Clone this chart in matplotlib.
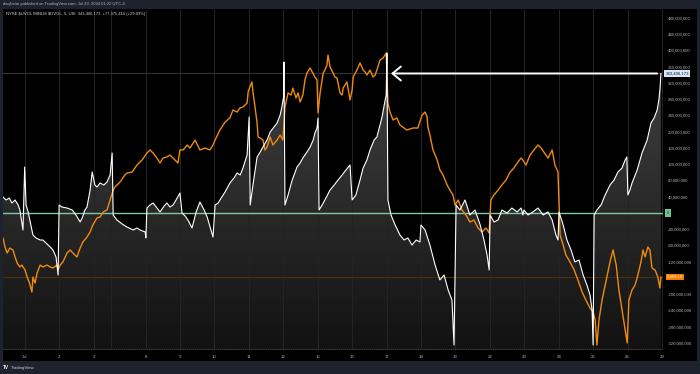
import numpy as np
import matplotlib.pyplot as plt
from matplotlib.colors import LinearSegmentedColormap

plt.rcParams['font.family'] = ['Liberation Sans', 'DejaVu Sans']

# x = trading sessions since Jul 1 open (Jul 3 was a half day)
day_ticks = [0, 1, 2, 3.5, 4.5, 5.5, 6.5, 7.5, 8.5, 9.5, 10.5, 11.5, 12.5,
             13.5, 14.5, 15.5, 16.5, 17.5, 18.5]
day_labels = ['Jul', '2', '3', '8', '9', '10', '11', '12', '15', '16', '17',
              '18', '19', '22', '23', '24', '25', '26', '29']
session_starts = day_ticks + [2.5]

# NYSE $UVOL minus $DVOL, cumulative per session, millions of shares
net_x = [-0.64, -0.55, -0.46, -0.38, -0.29, -0.20, -0.15, -0.06, -0.01,
         0.03, 0.09, 0.17, 0.23, 0.32, 0.44, 0.52, 0.61, 0.73, 0.81, 0.90, 0.96,
         0.99, 1.07, 1.22, 1.37, 1.48, 1.60, 1.66, 1.74, 1.80, 1.89, 1.95,
         2.03, 2.09, 2.18, 2.29, 2.38, 2.47, 2.53,
         2.56, 2.67, 2.82, 2.96, 3.14, 3.25, 3.34, 3.49, 3.51,
         3.54, 3.63, 3.72, 3.83, 3.92, 4.04, 4.12, 4.21, 4.30, 4.42, 4.50,
         4.56, 4.65, 4.73, 4.85, 4.97, 5.08, 5.20, 5.29, 5.40, 5.46,
         5.52, 5.61, 5.66, 5.81, 5.95, 6.07, 6.16, 6.25, 6.33, 6.45, 6.51,
         6.54, 6.62, 6.74, 6.83, 6.91, 7.03, 7.12, 7.23, 7.32, 7.41, 7.46, 7.51, 7.52,
         7.55, 7.64, 7.76, 7.90, 7.99, 8.07, 8.19, 8.28, 8.37, 8.42, 8.48, 8.51,
         8.54, 8.63, 8.74, 8.86, 8.98, 9.09, 9.21, 9.32, 9.44,
         9.50, 9.61, 9.73, 9.82, 9.93, 10.02, 10.14, 10.22, 10.31, 10.37, 10.46, 10.49, 10.51,
         10.54, 10.63, 10.75, 10.89, 11.01, 11.12, 11.24, 11.36, 11.47,
         11.50, 11.62, 11.76, 11.91, 12.05, 12.17, 12.29, 12.40, 12.46,
         12.52, 12.63, 12.78, 12.92, 13.07, 13.22, 13.33, 13.42, 13.48,
         13.51, 13.62, 13.74, 13.85, 14.00, 14.14, 14.29, 14.41, 14.46,
         14.49, 14.61, 14.75, 14.90, 15.05, 15.19, 15.31, 15.42, 15.48,
         15.51, 15.63, 15.74, 15.86, 15.97, 16.09, 16.21, 16.32, 16.41, 16.47, 16.50,
         16.53, 16.61, 16.73, 16.85, 16.99, 17.11, 17.22, 17.34, 17.43, 17.48,
         17.51, 17.57, 17.63, 17.78, 17.92, 18.07, 18.18, 18.27, 18.36, 18.41, 18.44, 18.47]
net_vol = [39.4, 32.0, 36.9, 24.6, 32.0, 19.7, 7.4, -41.8, 113.2,
           19.7, 2.5, -29.5, -54.2, -61.5, -66.5, -66.5, -73.8, -83.7, -91.1, -108.3, -152.6,
           19.7, 14.8, 12.3, 7.4, -4.9, -22.2, -12.3, 7.4, 14.8, 56.6, 100.9,
           68.9, 64.0, 73.8, 68.9, 76.3, 93.5, 147.7,
           -4.9, -17.2, -27.1, -34.5, -41.8, -36.9, -41.8, -46.8, -61.5,
           12.3, 19.7, 24.6, 12.3, 2.5, 17.2, 24.6, 14.8, 19.7, 36.9, 49.2,
           0.0, -7.4, -17.2, -36.9, 2.5, 27.1, 7.4, -9.8, -41.8, -59.1,
           19.7, 24.6, 32.0, 51.7, 73.8, 86.2, 98.5, 93.5, 110.8, 142.8, 236.3,
           19.7, 68.9, 137.8, 150.2, 162.5, 179.7, 199.4, 211.7, 221.5, 241.2, 260.9, 285.5, 371.7,
           19.7, 44.3, 81.2, 113.2, 123.1, 135.4, 150.2, 162.5, 179.7, 196.9, 209.2, 233.8,
           7.4, 19.7, 36.9, 56.6, 68.9, 81.2, 93.5, 105.8, 118.2,
           32.0, 44.3, 81.2, 110.8, 130.5, 155.1, 179.7, 187.1, 216.6, 236.3, 278.2, 290.5, 393.8,
           32.0, -4.9, -29.5, -54.2, -66.5, -61.5, -78.8, -66.5, -71.4,
           -29.5, -41.8, -78.8, -128.0, -164.9, -152.6, -189.5, -214.2, -324.9,
           19.7, 7.4, 32.0, -4.9, 7.4, -29.5, -66.5, -103.4, -140.3,
           -4.9, -22.2, -17.2, 7.4, 0.0, 12.3, 2.5, 12.3, -4.9,
           7.4, -4.9, 2.5, 12.3, -4.9, 2.5, -17.2, -54.2, -66.5,
           2.5, -29.5, -66.5, -91.1, -120.6, -115.7, -152.6, -177.2, -201.8, -238.8, -324.9,
           -4.9, 7.4, 19.7, 44.3, 68.9, 81.2, 100.9, 110.8, 130.5, 137.8,
           44.3, 56.6, 73.8, 105.8, 147.7, 179.7, 221.5, 233.8, 253.5, 278.2, 302.8, 343.4]

# S&P 500 overlay (own hidden scale)
spx_x = [-0.64, -0.58, -0.52, -0.44, -0.35, -0.29, -0.23, -0.15, -0.09, 0.00,
         0.06, 0.12, 0.17, 0.20, 0.23, 0.29, 0.35, 0.44, 0.52, 0.64, 0.73, 0.81, 0.93,
         0.96, 1.02, 1.10, 1.22, 1.31, 1.39, 1.51, 1.60, 1.68, 1.80, 1.89,
         1.97, 2.09, 2.18, 2.27, 2.38, 2.47,
         2.56, 2.61, 2.76, 2.90, 2.96, 3.11, 3.25, 3.40, 3.54,
         3.63, 3.72, 3.83, 3.92, 4.01, 4.12, 4.21, 4.30, 4.44, 4.50,
         4.59, 4.71, 4.79, 4.94, 5.08, 5.23, 5.37, 5.46,
         5.52, 5.66, 5.81, 5.95, 6.04, 6.16, 6.24, 6.33, 6.45, 6.48, 6.53,
         6.59, 6.62, 6.68, 6.74, 6.77, 6.83, 6.91, 6.97, 7.03, 7.12, 7.20, 7.32, 7.41, 7.49,
         7.55, 7.64, 7.73, 7.78, 7.87, 7.93, 7.99, 8.07, 8.13, 8.19, 8.28, 8.36, 8.42, 8.48, 8.51,
         8.57, 8.66, 8.71, 8.77, 8.80, 8.86, 8.95, 9.00, 9.06, 9.15, 9.21, 9.24, 9.35, 9.44,
         9.50, 9.53, 9.64, 9.73, 9.82, 9.88, 9.93, 10.02, 10.11, 10.17, 10.22, 10.31, 10.40, 10.49,
         10.54, 10.60, 10.69, 10.80, 10.89, 11.09, 11.27, 11.41, 11.53, 11.62, 11.68, 11.70,
         11.76, 11.85, 11.97, 12.05, 12.14, 12.26, 12.34, 12.43, 12.49,
         12.58, 12.69, 12.81, 12.92, 13.04, 13.16, 13.27, 13.39, 13.48,
         13.53, 13.62, 13.74, 13.85, 13.97, 14.09, 14.20, 14.32, 14.41, 14.46,
         14.55, 14.67, 14.78, 14.90, 14.99, 15.07, 15.19, 15.31, 15.39, 15.48,
         15.54, 15.63, 15.71, 15.83, 15.95, 16.06, 16.18, 16.29, 16.41, 16.50,
         16.56, 16.61, 16.67, 16.76, 16.88, 16.99, 17.08, 17.17, 17.25, 17.34, 17.43, 17.49,
         17.54, 17.63, 17.72, 17.80, 17.89, 17.95, 18.01, 18.09, 18.15, 18.21, 18.30, 18.38, 18.44, 18.47]
spx = [5495.3, 5486.9, 5481.4, 5486.0, 5484.2, 5477.7, 5472.1, 5468.4, 5470.2, 5465.6,
       5459.1, 5454.5, 5448.9, 5445.2, 5459.1, 5453.5, 5462.8, 5470.2, 5468.4, 5470.2, 5468.4, 5467.5, 5470.2,
       5465.6, 5470.2, 5473.0, 5481.4, 5484.2, 5481.4, 5477.7, 5486.0, 5491.6, 5496.2, 5500.9,
       5507.4, 5513.9, 5514.8, 5519.4, 5521.3, 5530.6,
       5539.8, 5542.6, 5547.3, 5553.8, 5555.6, 5556.5, 5563.0, 5567.7, 5574.2,
       5577.0, 5574.2, 5569.5, 5564.9, 5569.5, 5570.5, 5572.3, 5569.5, 5564.9, 5577.0,
       5577.0, 5581.6, 5578.8, 5586.2, 5577.0, 5578.8, 5577.0, 5581.6,
       5586.2, 5595.5, 5602.9, 5606.7, 5614.1, 5612.2, 5615.9, 5616.9, 5620.6, 5630.8, 5635.4,
       5640.1, 5630.8, 5616.9, 5602.0, 5589.0, 5588.1, 5586.2, 5577.0, 5579.7, 5589.0, 5581.6, 5586.2, 5590.9, 5586.2,
       5616.9, 5629.9, 5628.0, 5634.5, 5625.2, 5629.9, 5621.5, 5628.0, 5641.9, 5648.4, 5653.1, 5648.4, 5644.7, 5641.9, 5611.3,
       5629.9, 5648.4, 5651.2, 5655.8, 5665.1, 5654.0, 5648.4, 5644.7, 5643.8, 5629.9, 5628.0, 5634.5, 5640.1, 5623.4,
       5632.6, 5644.7, 5651.2, 5657.7, 5651.2, 5649.3, 5646.6, 5651.2, 5644.7, 5646.6, 5651.2, 5660.5, 5662.3, 5667.0,
       5620.6, 5612.2, 5604.8, 5606.7, 5600.2, 5595.5, 5597.4, 5597.4, 5609.4, 5612.2, 5607.6, 5598.3,
       5590.9, 5577.0, 5567.7, 5558.4, 5553.8, 5544.5, 5539.8, 5535.2, 5525.9,
       5530.6, 5521.3, 5516.6, 5510.1, 5512.0, 5504.6, 5500.9, 5504.6, 5499.9,
       5530.6, 5535.2, 5539.8, 5544.5, 5549.1, 5556.5, 5560.3, 5566.0, 5569.5, 5567.7,
       5563.0, 5572.3, 5577.0, 5581.6, 5578.8, 5575.1, 5569.5, 5577.0, 5563.0, 5556.5,
       5498.1, 5488.8, 5479.5, 5473.0, 5465.6, 5456.3, 5445.2, 5437.8, 5430.3, 5426.6,
       5419.2, 5396.0, 5419.2, 5437.8, 5456.3, 5473.0, 5484.2, 5470.2, 5447.0, 5428.5, 5409.9, 5397.9,
       5437.8, 5447.0, 5451.7, 5461.0, 5473.0, 5484.2, 5477.7, 5486.9, 5484.2, 5467.5, 5465.6, 5459.1, 5448.9, 5459.1]

price_ticks = [480, 440, 400, 360, 320, 280, 240, 200, 160, 120, 80, 40,
               -40, -80, -120, -200, -240, -280, -320]

net_last = 343.406173
spx_last = 5459.10

W, H = 700, 374
fig = plt.figure(figsize=(7, 3.74), dpi=100, facecolor='#1e222d')

# black chart frame
frame = fig.add_axes([3 / W, 13 / H, 694 / W, 352 / H])
frame.set_facecolor('black')
frame.set_xticks([])
frame.set_yticks([])
for s in frame.spines.values():
    s.set_visible(False)

ax = fig.add_axes([3 / W, 25 / H, 660 / W, 339 / H], facecolor='black')
ax.set_xlim(-0.64, 18.53)
ax.set_ylim(-334.8, 499.7)

# area fill with vertical gradient
poly = ax.fill_between(net_x, net_vol, -334.8, facecolor='none', edgecolor='none')
grad = np.linspace(0, 1, 256).reshape(-1, 1)
cmap = LinearSegmentedColormap.from_list('area', ['#121212', '#4a4a4a'])
im = ax.imshow(grad, cmap=cmap, origin='lower', aspect='auto',
               extent=[-0.64, 18.53, -334.8, 499.7], zorder=1)
im.set_clip_path(poly.get_paths()[0], transform=ax.transData)

for d in session_starts:
    ax.axvline(d, color='#232323', lw=0.8, zorder=2)

ax.axhline(net_last, color='#2e3340', lw=0.8, zorder=2)
ax.axhline(0, color='#7ccaa0', lw=1.0, zorder=3)

ax.set_xticks(day_ticks)
ax.set_xticklabels(day_labels)
ax.tick_params(axis='x', length=0, pad=4.3, labelsize=3.1, labelcolor='#b2b5be')
for s in ['top', 'left', 'right']:
    ax.spines[s].set_visible(False)
ax.spines['bottom'].set_color('#4a4a4a')
ax.spines['bottom'].set_linestyle((0, (1, 1.5)))
ax.spines['bottom'].set_linewidth(0.6)

# SPX overlay on its own scale
ax_spx = ax.twinx()
ax_spx.set_ylim(5392.3, 5706.9)
ax_spx.axhline(spx_last, color='#4a3010', lw=0.8)
ax_spx.plot(spx_x, spx, color='#f08a0e', lw=1.0)
ax_spx.set_yticks([])

# net volume line on top
ax_w = ax.twinx()
ax_w.set_ylim(ax.get_ylim())
ax_w.plot(net_x, net_vol, color='white', lw=0.8)
ax_w.set_yticks([])
ax_w.annotate('', xy=(10.63, net_last), xytext=(18.36, net_last),
              arrowprops=dict(arrowstyle='->,head_length=0.6,head_width=0.5',
                              color='white', lw=1.4, shrinkA=0, shrinkB=0))

for a in (ax_spx, ax_w):
    for s in a.spines.values():
        s.set_visible(False)

ax.yaxis.tick_right()
ax.set_yticks(price_ticks)
ax.set_yticklabels([f'{v * 1_000_000:,}' for v in price_ticks])
ax.tick_params(axis='y', length=0, pad=3.6, labelsize=3.1, labelcolor='#b2b5be')

# last value labels on the price scale
ax.text(1.004, net_last, f'{net_last * 1e6:,.0f}', transform=ax.get_yaxis_transform(),
        ha='left', va='center', fontsize=3.1, color='#131722',
        bbox=dict(boxstyle='square,pad=0.3', fc='#d6e8fa', ec='none'), zorder=5)
ax.text(1.006, 0, '0', transform=ax.get_yaxis_transform(),
        ha='left', va='center', fontsize=3.1, color='#0f3d24',
        bbox=dict(boxstyle='square,pad=0.35', fc='#6cc893', ec='none'), zorder=5)
ax_spx.text(1.006, spx_last, f'{spx_last:,.2f}', transform=ax_spx.get_yaxis_transform(),
            ha='left', va='center', fontsize=3.1, color='white',
            bbox=dict(boxstyle='square,pad=0.3', fc='#f57c00', ec='none'), zorder=5)

# header, legend line and footer
fig.text(3 / W, 1 - 4.5 / H, 'dacjkstar published on TradingView.com, Jul 29, 2024 01:22 UTC-4',
         fontsize=3, color='#b2b5be', va='center')
fig.text(6 / W, 1 - 14.5 / H,
         'NYSE \\$UVOL MINUS \\$DVOL, 5, USI  343,406,173  +77,375,416 (+29.09%)',
         fontsize=3, color='#d1d4dc', va='center')
fig.text(3 / W, 1 - 367.5 / H, 'TV', fontsize=3.4, fontweight='bold', color='white', va='center')
fig.text(11 / W, 1 - 367.5 / H, 'TradingView', fontsize=3.2, color='#d1d4dc', va='center')

fig.savefig('out.png', dpi=100, facecolor=fig.get_facecolor())
